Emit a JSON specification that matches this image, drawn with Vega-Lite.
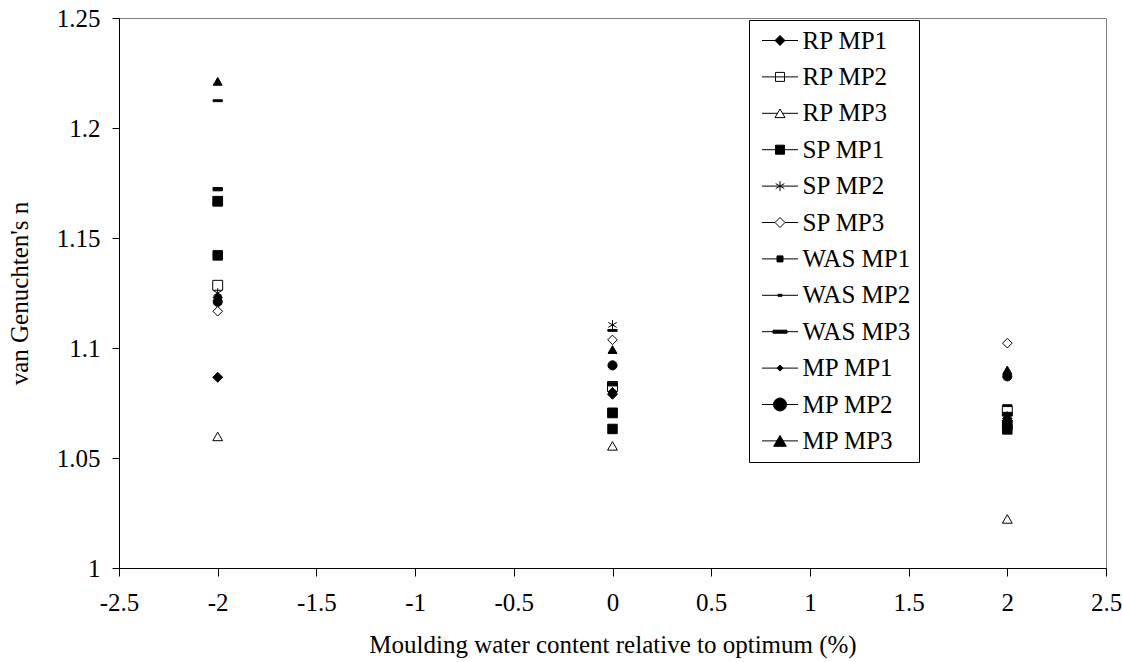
{
  "$schema": "https://vega.github.io/schema/vega-lite/v6.json",
  "width": 987,
  "height": 550,
  "autosize": {"type": "none"},
  "padding": {"left": 119, "top": 18, "right": 16, "bottom": 94},
  "background": "white",
  "config": {
    "view": {"stroke": "#808080", "strokeWidth": 1},
    "font": "Liberation Serif",
    "axis": {
      "grid": false,
      "domainColor": "black",
      "domainWidth": 1,
      "tickColor": "black",
      "labelColor": "black",
      "titleColor": "black",
      "labelFont": "Liberation Serif",
      "titleFont": "Liberation Serif",
      "labelFontSize": 25,
      "titleFontSize": 25,
      "titleFontWeight": "normal"
    },
    "legend": {
      "title": null,
      "orient": "none",
      "legendX": 630,
      "legendY": 2,
      "symbolSize": 400,
      "symbolStrokeWidth": 1,
      "symbolStrokeColor": "black",
      "symbolFillColor": "white",
      "symbolOffset": 10.5,
      "labelOffset": 10,
      "labelFont": "Liberation Serif",
      "labelFontSize": 25,
      "labelColor": "black",
      "labelLimit": 300,
      "strokeColor": "black",
      "fillColor": "white",
      "padding": 8,
      "rowPadding": 10.4
    }
  },
  "data": {
    "values": [
      {"series": "RP MP1", "x": -2, "n": 1.0867},
      {"series": "RP MP1", "x": 0, "n": 1.079},
      {"series": "RP MP1", "x": 2, "n": 1.067},
      {"series": "RP MP2", "x": -2, "n": 1.1285},
      {"series": "RP MP2", "x": 0, "n": 1.0825},
      {"series": "RP MP2", "x": 2, "n": 1.0713},
      {"series": "RP MP3", "x": -2, "n": 1.0598},
      {"series": "RP MP3", "x": 0, "n": 1.0555},
      {"series": "RP MP3", "x": 2, "n": 1.0223},
      {"series": "SP MP1", "x": -2, "n": 1.1667},
      {"series": "SP MP1", "x": 0, "n": 1.0705},
      {"series": "SP MP1", "x": 2, "n": 1.065},
      {"series": "SP MP2", "x": -2, "n": 1.125},
      {"series": "SP MP2", "x": 0, "n": 1.1105},
      {"series": "SP MP2", "x": 2, "n": 1.069},
      {"series": "SP MP3", "x": -2, "n": 1.1167},
      {"series": "SP MP3", "x": 0, "n": 1.1037},
      {"series": "SP MP3", "x": 2, "n": 1.1022},
      {"series": "WAS MP1", "x": -2, "n": 1.1421},
      {"series": "WAS MP1", "x": 0, "n": 1.0632},
      {"series": "WAS MP1", "x": 2, "n": 1.063},
      {"series": "WAS MP2", "x": -2, "n": 1.1722},
      {"series": "WAS MP2", "x": 0, "n": 1.0835},
      {"series": "WAS MP2", "x": 2, "n": 1.07},
      {"series": "WAS MP3", "x": -2, "n": 1.2124},
      {"series": "WAS MP3", "x": 0, "n": 1.108},
      {"series": "WAS MP3", "x": 2, "n": 1.0738},
      {"series": "MP MP1", "x": -2, "n": 1.123},
      {"series": "MP MP1", "x": 0, "n": 1.08},
      {"series": "MP MP1", "x": 2, "n": 1.068},
      {"series": "MP MP2", "x": -2, "n": 1.121},
      {"series": "MP MP2", "x": 0, "n": 1.0921},
      {"series": "MP MP2", "x": 2, "n": 1.0871},
      {"series": "MP MP3", "x": -2, "n": 1.2212},
      {"series": "MP MP3", "x": 0, "n": 1.0993},
      {"series": "MP MP3", "x": 2, "n": 1.09}
    ]
  },
  "encoding": {
    "x": {
      "field": "x", "type": "quantitative",
      "scale": {"domain": [-2.5, 2.5], "nice": false, "zero": false},
      "axis": {
        "title": "Moulding water content relative to optimum (%)",
        "values": [-2.5, -2, -1.5, -1, -0.5, 0, 0.5, 1, 1.5, 2, 2.5],
        "labelExpr": "datum.value + ''",
        "tickSize": 8,
        "labelPadding": 14,
        "titlePadding": 17,
        "labelFlush": false
      }
    },
    "y": {
      "field": "n", "type": "quantitative",
      "scale": {"domain": [1, 1.25], "nice": false, "zero": false},
      "axis": {
        "title": "van Genuchten's n",
        "values": [1, 1.05, 1.1, 1.15, 1.2, 1.25],
        "labelExpr": "datum.value + ''",
        "tickSize": 7,
        "labelPadding": 12,
        "titlePadding": 24,
        "labelFlush": false
      }
    }
  },
  "layer": [
    {
      "mark": {"type": "point", "filled": false, "stroke": "black", "strokeWidth": 1, "opacity": 1},
      "encoding": {
        "shape": {
          "field": "series", "type": "nominal",
          "scale": {
            "domain": ["RP MP1", "RP MP2", "RP MP3", "SP MP1", "SP MP2", "SP MP3", "WAS MP1", "WAS MP2", "WAS MP3", "MP MP1", "MP MP2", "MP MP3"],
            "range": ["diamond", "square", "triangle-up", "square", "M0,-1L0,1M-0.87,-0.5L0.87,0.5M-0.87,0.5L0.87,-0.5", "diamond", "square", "M-1,-0.35L1,-0.35L1,0.35L-1,0.35Z", "M-1,-0.2L1,-0.2L1,0.2L-1,0.2Z", "diamond", "circle", "triangle-up"]
          },
          "legend": null
        },
        "fill": {
          "field": "series", "type": "nominal",
          "scale": {
            "domain": ["RP MP1", "RP MP2", "RP MP3", "SP MP1", "SP MP2", "SP MP3", "WAS MP1", "WAS MP2", "WAS MP3", "MP MP1", "MP MP2", "MP MP3"],
            "range": ["black", "white", "white", "black", "white", "white", "black", "black", "black", "black", "black", "black"]
          },
          "legend": null
        },
        "size": {
          "field": "series", "type": "nominal",
          "scale": {
            "domain": ["RP MP1", "RP MP2", "RP MP3", "SP MP1", "SP MP2", "SP MP3", "WAS MP1", "WAS MP2", "WAS MP3", "MP MP1", "MP MP2", "MP MP3"],
            "range": [100, 81, 100, 81, 100, 100, 25, 16, 196, 36, 169, 160]
          },
          "legend": null
        }
      }
    },
    {
      "transform": [{"filter": "datum.n > 10"}],
      "mark": {"type": "point", "filled": true, "stroke": "black", "strokeWidth": 1, "opacity": 1},
      "encoding": {
        "shape": {
          "field": "series", "type": "nominal",
          "scale": {
            "domain": ["RP MP1", "RP MP2", "RP MP3", "SP MP1", "SP MP2", "SP MP3", "WAS MP1", "WAS MP2", "WAS MP3", "MP MP1", "MP MP2", "MP MP3"],
            "range": [
              "M-1.8,0L1.8,0M0,-0.5L0.5,0L0,0.5L-0.5,0Z",
              "M-1.8,0L1.8,0M-0.45,-0.45L0.45,-0.45L0.45,0.45L-0.45,0.45Z",
              "M-1.8,0L-0.25,0M0.25,0L1.8,0M0,-0.43L0.5,0.43L-0.5,0.43Z",
              "M-1.8,0L1.8,0M-0.45,-0.45L0.45,-0.45L0.45,0.45L-0.45,0.45Z",
              "M-1.8,0L1.8,0M0,-0.5L0,0.5M-0.43,-0.25L0.43,0.25M-0.43,0.25L0.43,-0.25",
              "M-1.8,0L-0.5,0M0.5,0L1.8,0M0,-0.5L0.5,0L0,0.5L-0.5,0Z",
              "M-1.8,0L1.8,0M-0.3,-0.3L0.3,-0.3L0.3,0.3L-0.3,0.3Z",
              "M-1.8,0L1.8,0M-0.2,-0.1L0.2,-0.1L0.2,0.1L-0.2,0.1Z",
              "M-1.8,0L1.8,0M-0.7,-0.15L0.7,-0.15L0.7,0.15L-0.7,0.15Z",
              "M-1.8,0L1.8,0M0,-0.3L0.3,0L0,0.3L-0.3,0Z",
              "M-1.8,0L1.8,0M0.65,0L0.6,0.249L0.46,0.46L0.249,0.6L0,0.65L-0.249,0.6L-0.46,0.46L-0.6,0.249L-0.65,0L-0.6,-0.249L-0.46,-0.46L-0.249,-0.6L0,-0.65L0.249,-0.6L0.46,-0.46L0.6,-0.249Z",
              "M-1.8,0L1.8,0M0,-0.54L0.63,0.54L-0.63,0.54Z"
            ]
          },
          "legend": {"title": null}
        },
        "fill": {
          "field": "series", "type": "nominal",
          "scale": {
            "domain": ["RP MP1", "RP MP2", "RP MP3", "SP MP1", "SP MP2", "SP MP3", "WAS MP1", "WAS MP2", "WAS MP3", "MP MP1", "MP MP2", "MP MP3"],
            "range": ["black", "white", "white", "black", "white", "white", "black", "black", "black", "black", "black", "black"]
          },
          "legend": {"title": null}
        }
      }
    }
  ],
  "resolve": {
    "scale": {"shape": "independent", "fill": "independent", "size": "independent"},
    "legend": {"shape": "independent", "fill": "independent", "size": "independent"}
  }
}
